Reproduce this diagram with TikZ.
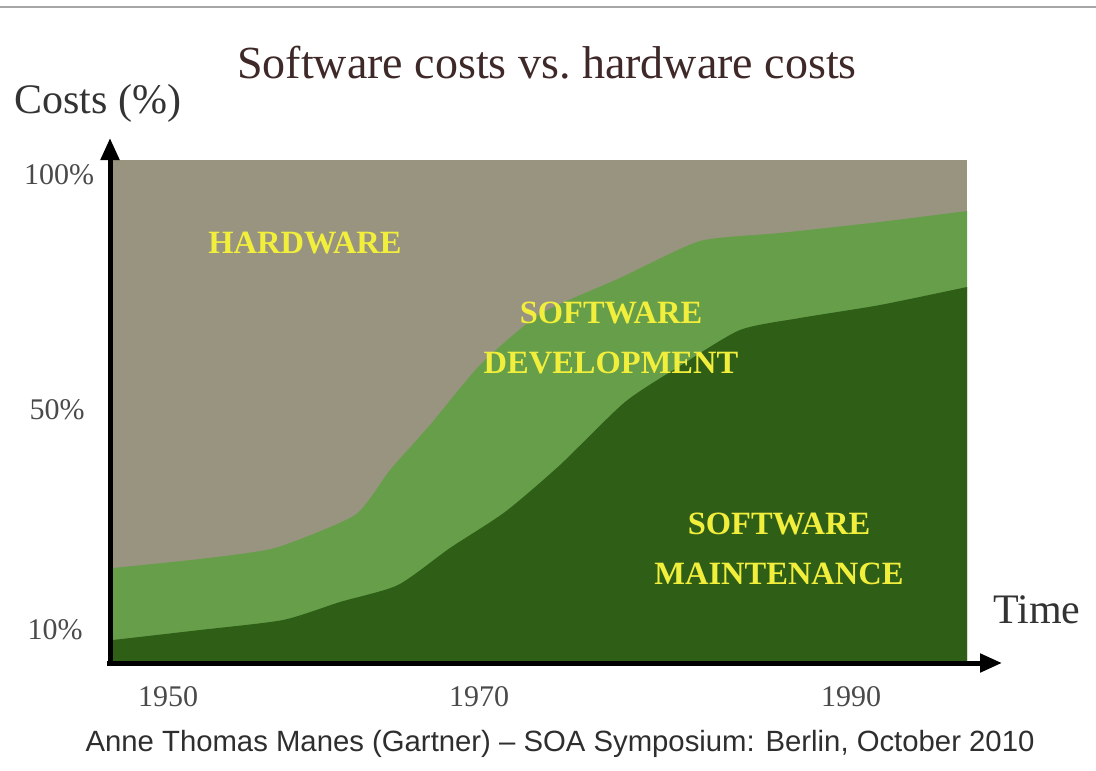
\documentclass[tikz,border=0pt]{standalone}
\usepackage{fontspec}
\setmainfont{Liberation Serif}
\newfontfamily\arialfont{Liberation Sans}
\usepackage{xcolor}
\usetikzlibrary{arrows.meta}

\definecolor{hwgray}{HTML}{989480}
\definecolor{devgreen}{HTML}{669E49}
\definecolor{maintgreen}{HTML}{2F5F17}
\definecolor{labelyellow}{HTML}{F2EE3C}
\definecolor{titlebrown}{HTML}{3E2828}
\definecolor{ticktext}{HTML}{4A4A4A}

\begin{document}
\begin{tikzpicture}[x=1pt, y=-1pt,
  area label/.style={text=labelyellow, font=\fontsize{32.5}{50}\selectfont\bfseries, align=center},
  tick label/.style={text=ticktext, font=\fontsize{30}{32}\selectfont},
  axis/.style={line width=5pt, -{Triangle[length=22pt, width=18pt]}}]
\useasboundingbox (0,0) rectangle (1096,771);
\draw[line width=2pt, gray!70] (0,7) -- (1096,7);

% stacked areas
\fill[hwgray] (113,160) rectangle (967,663);
\fill[devgreen] (113,663) -- plot[smooth, tension=0.35] coordinates {(113,568) (200,559) (275,548) (355,515) (390,470) (430,425) (480,365) (540,314) (620,278) (700,241) (780,233) (880,222) (967,211)} -- (967,663) -- cycle;
\fill[maintgreen] (113,663) -- plot[smooth, tension=0.4] coordinates {(113,640) (200,630) (283,620) (340,602) (398,585) (450,548) (505,512) (560,465) (625,402) (680,366) (740,330) (800,318) (880,305) (967,287)} -- (967,663) -- cycle;

% axes
\coordinate (origin) at (110,663);
\coordinate (ytip) at (110,138);
\coordinate (xtip) at (1002,663);
\draw[axis] (110,666) -- (ytip);
\draw[axis] (107,663) -- (xtip);

\node[font=\fontsize{46}{50}\selectfont, text=titlebrown] (title) at (547,63) {Software costs vs.\ hardware costs};
\node[font=\fontsize{42}{46}\selectfont, text=black!80] (costs) at (98,103) {Costs (\%)};
\node[font=\fontsize{42}{46}\selectfont, text=black!80] (time) at (1037,610) {Time};

\node[tick label] (p100) at (59,175) {100\%};
\node[tick label] (p50) at (57,410) {50\%};
\node[tick label] (p10) at (55,630) {10\%};

\node[tick label] (y1950) at (168,697) {1950};
\node[tick label] (y1970) at (479,697) {1970};
\node[tick label] (y1990) at (851,697) {1990};

\node[area label] (hardware) at (305,243) {HARDWARE};
\node[area label] (development) at (611,338) {SOFTWARE\\DEVELOPMENT};
\node[area label] (maintenance) at (779,549) {SOFTWARE\\MAINTENANCE};

\node[font=\arialfont\fontsize{29.3}{32}\selectfont, text=black!82] (source) at (560,744) {Anne Thomas Manes (Gartner) – SOA Symposium: Berlin, October 2010};
\end{tikzpicture}
\end{document}
